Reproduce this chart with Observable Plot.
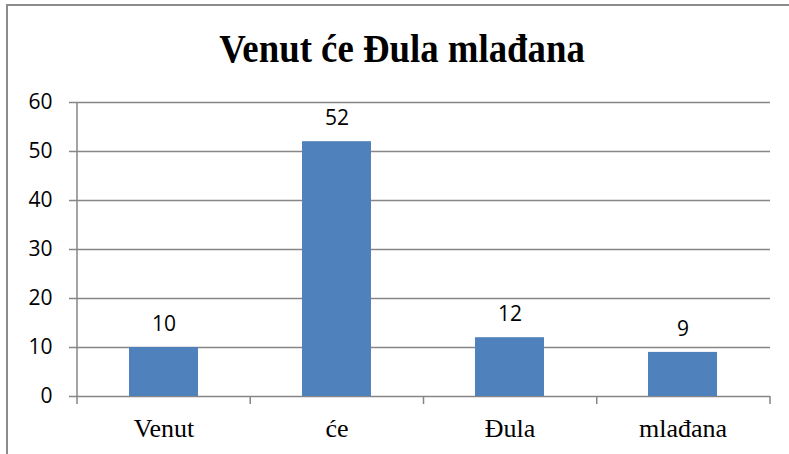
<!DOCTYPE html>
<html>
<head>
<meta charset="utf-8">
<script src="https://cdn.jsdelivr.net/npm/d3@7"></script>
<script src="https://cdn.jsdelivr.net/npm/@observablehq/plot@0.6"></script>
<style>
  html, body { margin: 0; padding: 0; background: #fff; }
  #wrap { position: relative; width: 789px; height: 454px; overflow: hidden; background: #fff; }
  #frameTop { position: absolute; left: 6px; top: 4px; width: 790px; height: 2px; background: #8c8c8c; }
  #frameLeft { position: absolute; left: 6px; top: 4px; width: 2px; height: 460px; background: #8c8c8c; }
  #title { position: absolute; left: 0; top: 25px; width: 804px; text-align: center;
           font-family: "Liberation Serif", "Times New Roman", serif; font-weight: bold;
           font-size: 40px; line-height: 48px; color: #000; transform: scaleX(0.92); transform-origin: 402px 0; }
  #chart { position: absolute; left: 0; top: 0; }
</style>
</head>
<body>
<div id="wrap">
  <div id="chart"></div>
  <div id="frameTop"></div>
  <div id="frameLeft"></div>
  <div id="title">Venut će Đula mlađana</div>
</div>
<script>
const categories = ["Venut", "će", "Đula", "mlađana"];
const values = [10, 52, 12, 9];
const yTicks = [0, 10, 20, 30, 40, 50, 60];

const data = categories.map((c, i) => ({cat: c, value: values[i]}));
const gridColor = "#868686";

function boundaryTicks(index, scales, vals, dim) {
  const g = d3.create("svg:g");
  const n = categories.length;
  const x0 = dim.marginLeft, x1 = dim.width - dim.marginRight;
  const yBase = scales.y(0), yTop = scales.y(60);
  g.append("line").attr("x1", x0).attr("x2", x0).attr("y1", yTop).attr("y2", yBase + 8)
    .attr("stroke", gridColor).attr("stroke-width", 1.5);
  for (let i = 1; i <= n; i++) {
    const x = x0 + i * (x1 - x0) / n;
    g.append("line").attr("x1", x).attr("x2", x).attr("y1", yBase).attr("y2", yBase + 8)
      .attr("stroke", gridColor).attr("stroke-width", 1.5);
  }
  return g.node();
}

const plot = Plot.plot({
  width: 789,
  height: 454,
  marginLeft: 77,
  marginRight: 19,
  marginTop: 102,
  marginBottom: 58,
  style: {fontFamily: "'Open Sans', sans-serif", fontSize: "21px", color: "#000", background: "transparent"},
  x: {domain: categories, paddingInner: 0.6, paddingOuter: 0.3, axis: null, label: null},
  y: {domain: [0, 60], axis: null, label: null},
  marks: [
    Plot.ruleY(yTicks, {stroke: gridColor, strokeWidth: 1.5}),
    Plot.barY(data, {x: "cat", y: "value", fill: "#4F81BD"}),
    Plot.axisY({ticks: yTicks, label: null, tickSize: 8, tickPadding: 17, stroke: gridColor, strokeWidth: 1.5, strokeOpacity: 1, fill: "#000", fontSize: 21, tickFormat: d => String(d)}),
    Plot.axisX({label: null, tickSize: 0, tickPadding: 22, fill: "#000", fontSize: 26, fontFamily: "'Liberation Serif', 'Times New Roman', serif"}),
    Plot.text(data, {x: "cat", y: "value", text: d => String(d.value), dy: -23, fill: "#000", fontSize: 21}),
    boundaryTicks
  ]
});
document.getElementById("chart").appendChild(plot);
</script>
</body>
</html>
